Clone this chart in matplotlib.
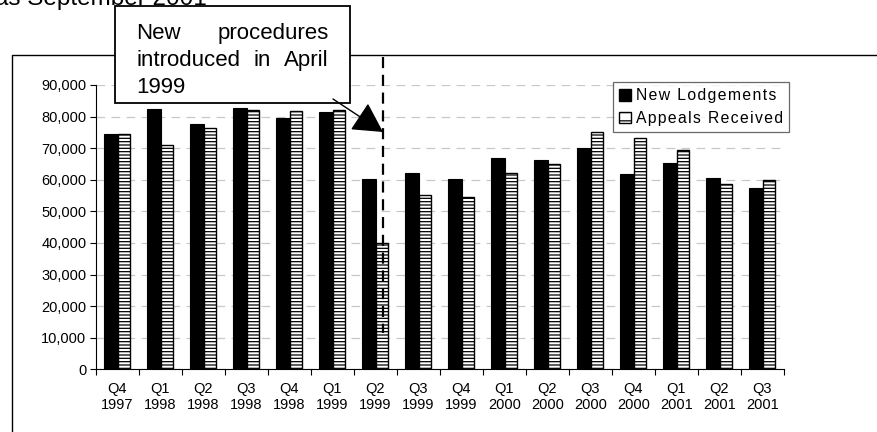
import matplotlib
matplotlib.use("Agg")
import matplotlib.pyplot as plt
from matplotlib.lines import Line2D
from matplotlib.patches import Rectangle, FancyArrowPatch, Patch
from matplotlib.ticker import FuncFormatter, FixedLocator
import numpy as np

plt.rcParams['font.family'] = ['Liberation Sans', 'DejaVu Sans']
plt.rcParams['hatch.linewidth'] = 0.9

quarters = ["Q4", "Q1", "Q2", "Q3", "Q4", "Q1", "Q2", "Q3", "Q4", "Q1", "Q2", "Q3", "Q4", "Q1", "Q2", "Q3"]
years = ["1997", "1998", "1998", "1998", "1998", "1999", "1999", "1999", "1999", "2000", "2000", "2000", "2000", "2001", "2001", "2001"]
new_lodgements = [74400, 82300, 77800, 82700, 79700, 81300, 60100, 62200, 60100, 67000, 66100, 69900, 61700, 65200, 60600, 57300]
appeals_received = [74400, 71000, 76300, 82100, 81700, 82100, 40100, 55200, 54600, 62100, 65100, 75200, 73300, 69300, 58600, 60000]
yticks = [0, 10000, 20000, 30000, 40000, 50000, 60000, 70000, 80000, 90000]
series_names = ["New Lodgements", "Appeals Received"]

W, H = 878, 432
fig = plt.figure(figsize=(W / 100, H / 100), dpi=100)

def fx(px):
    return px / W

def fy(py):
    return 1 - py / H

ax = fig.add_axes([fx(96), fy(369.3), fx(784) - fx(96), fy(85) - fy(369.3)])

x = np.arange(len(quarters))
ax.bar(x - 0.155, new_lodgements, 0.33, color="black", edgecolor="black", linewidth=0.8, zorder=3)
ax.bar(x + 0.15, appeals_received, 0.28, color="white", edgecolor="black", linewidth=1.0,
       hatch="-----", zorder=3)

ax.set_xlim(-0.5, len(quarters) - 0.5)
ax.set_ylim(0, 90000)
ax.set_yticks(yticks)
ax.yaxis.set_major_formatter(FuncFormatter(lambda v, p: f"{int(v):,}"))
ax.tick_params(axis="y", labelsize=10.5, length=4, width=0.8, pad=3, colors="black")

ax.set_xticks(x)
ax.set_xticklabels([f"{q}\n{y}" for q, y in zip(quarters, years)], fontsize=10.5, linespacing=1.2)
ax.xaxis.set_minor_locator(FixedLocator(np.arange(-0.5, len(quarters), 1.0)))
ax.tick_params(axis="x", which="major", length=0, pad=9)
ax.tick_params(axis="x", which="minor", length=4, width=0.8, direction="out")

for s in ["top", "right"]:
    ax.spines[s].set_visible(False)
ax.spines["left"].set_linewidth(0.8)
ax.spines["bottom"].set_linewidth(0.8)

ax.yaxis.grid(True, color="#c8c8c8", linestyle=(0, (7, 5)), linewidth=0.9, zorder=0)
ax.set_axisbelow(True)

# legend (letter-spaced labels as in the reference)
def spaced(s):
    return "\u200a".join(list(s))

handles = [Patch(facecolor="black", edgecolor="black"),
           Patch(facecolor="white", edgecolor="black", hatch="--")]
leg = fig.legend(handles, [spaced(n) for n in series_names], loc="upper left",
                 bbox_to_anchor=(fx(613), fy(82)), bbox_transform=fig.transFigure,
                 fontsize=11.3, frameon=True, fancybox=False, edgecolor="#444444",
                 handlelength=0.75, handleheight=0.75, handletextpad=0.3,
                 borderpad=0.4, labelspacing=0.5, borderaxespad=0)
leg.get_frame().set_linewidth(0.9)

# outer chart frame
fig.add_artist(Line2D([fx(12), fx(12), fx(878)], [fy(432), fy(55), fy(55)],
                      transform=fig.transFigure, color="black", linewidth=1.0))

# dashed vertical marker
fig.add_artist(Line2D([fx(383), fx(383)], [fy(57), fy(333)], transform=fig.transFigure,
                      color="black", linewidth=1.6, linestyle=(0, (5, 3))))

# annotation box
fig.add_artist(Rectangle((fx(115), fy(103)), fx(350) - fx(115), fy(6) - fy(103),
                         transform=fig.transFigure, facecolor="white", edgecolor="black",
                         linewidth=1.3, zorder=5))
fs = 16
fig.text(fx(136), fy(39), "New", fontsize=fs, ha="left", va="baseline", zorder=6)
fig.text(fx(329), fy(39), "procedures", fontsize=fs, ha="right", va="baseline", zorder=6)
t_intro = fig.text(fx(136), fy(66), "introduced", fontsize=fs, ha="left", va="baseline", zorder=6)
t_april = fig.text(fx(329), fy(66), "April", fontsize=fs, ha="right", va="baseline", zorder=6)
fig.text(fx(136), fy(93), "1999", fontsize=fs, ha="left", va="baseline", zorder=6)
fig.canvas.draw()
r = fig.canvas.get_renderer()
e1 = t_intro.get_window_extent(r)
e2 = t_april.get_window_extent(r)
mid = (e1.x1 + e2.x0) / 2 / W
fig.text(mid, fy(66), "in", fontsize=fs, ha="center", va="baseline", zorder=6)

arrow = FancyArrowPatch((fx(333), fy(99)), (fx(383), fy(132)), transform=fig.transFigure,
                        arrowstyle="-|>,head_length=1.1,head_width=0.6", mutation_scale=17,
                        color="black", linewidth=1.0, zorder=7, shrinkA=0, shrinkB=0)
fig.add_artist(arrow)

# partially visible title at the top
fig.text(fx(207), fy(5), "as September 2001", fontsize=17.5, ha="right", va="baseline")

fig.savefig("out.png", dpi=100)
